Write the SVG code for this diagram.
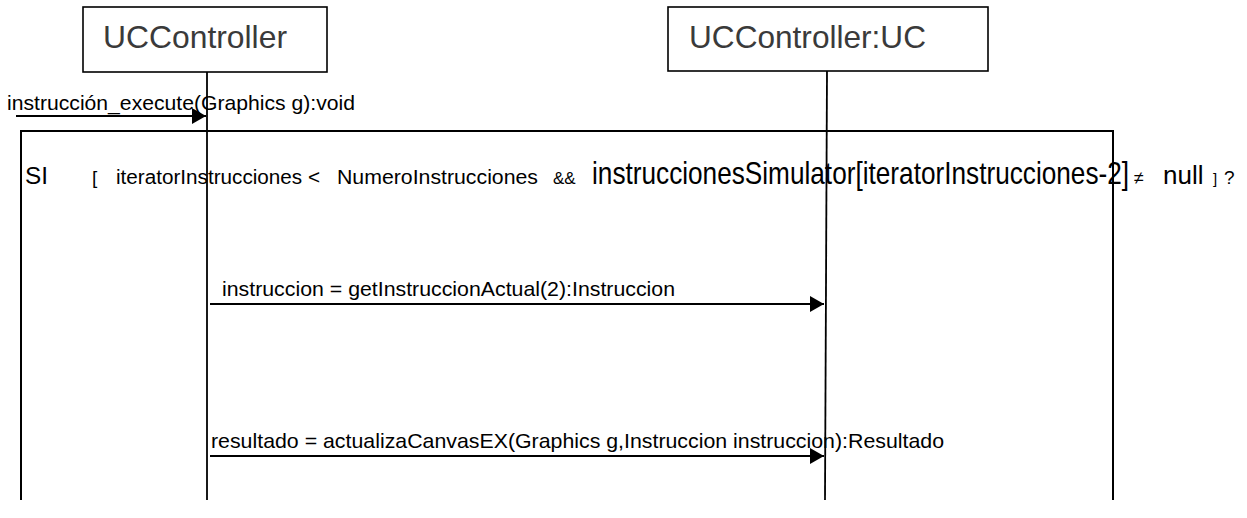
<svg xmlns="http://www.w3.org/2000/svg" width="1247" height="518" viewBox="0 0 1247 518">
  <style>
    .box { fill: #ffffff; stroke: #000000; stroke-width: 1.6; }
    .life { stroke: #000000; stroke-width: 1.8; fill: none; }
    .frame { stroke: #000000; stroke-width: 2; fill: none; }
    .msg { stroke: #000000; stroke-width: 1.8; fill: none; marker-end: url(#arrow); }
    .title { font-family: "Liberation Sans", Arial, sans-serif; font-size: 32px; fill: #3a3a3a; }
    .lbl { font-family: "Liberation Sans", Arial, sans-serif; fill: #000000; }
  </style>
  <defs>
    <marker id="arrow" viewBox="0 0 14 16" refX="14" refY="8" markerWidth="14" markerHeight="16" markerUnits="userSpaceOnUse" orient="auto">
      <path d="M0,0 L14,8 L0,16 Z" fill="#000000"/>
    </marker>
  </defs>

  <!-- lifeline heads -->
  <g id="uccontroller">
    <rect class="box" x="83" y="7" width="244" height="65"/>
    <text class="title" x="103" y="48" textLength="184" lengthAdjust="spacingAndGlyphs">UCController</text>
    <line class="life" x1="207" y1="72" x2="207" y2="500"/>
  </g>
  <g id="uccontroller-uc">
    <rect class="box" x="668" y="7" width="320" height="64"/>
    <text class="title" x="689" y="48" textLength="237" lengthAdjust="spacingAndGlyphs">UCController:UC</text>
    <line class="life" x1="827" y1="71" x2="825" y2="500"/>
  </g>

  <!-- combined fragment with its guard -->
  <g id="fragment-si">
    <path class="frame" d="M21,500 L21,131 L1113,131 L1113,500"/>
    <text class="lbl" x="25" y="184" font-size="24" textLength="23" lengthAdjust="spacingAndGlyphs">SI</text>
    <text class="lbl" x="92" y="184" font-size="19">[</text>
    <text class="lbl" x="116" y="184" font-size="20" textLength="204" lengthAdjust="spacingAndGlyphs">iteratorInstrucciones &lt;</text>
    <text class="lbl" x="337" y="184" font-size="20" textLength="201" lengthAdjust="spacingAndGlyphs">NumeroInstrucciones</text>
    <text class="lbl" x="553" y="184" font-size="17">&amp;&amp;</text>
    <!-- tall, narrow run: stretched vertically rather than squeezed sideways -->
    <text class="lbl" font-size="26.2" transform="translate(592,184) scale(1,1.18)">instruccionesSimulator[iteratorInstrucciones-2]</text>
    <text class="lbl" x="1134" y="184" font-size="18">≠</text>
    <text class="lbl" x="1163" y="184" font-size="26">null</text>
    <text class="lbl" x="1213" y="184" font-size="15">]</text>
    <text class="lbl" x="1224" y="184" font-size="19">?</text>
  </g>

  <!-- messages -->
  <g id="connectors">
    <line class="msg" x1="16" y1="116" x2="206" y2="116"/>
    <text class="lbl" x="7" y="110" font-size="21" textLength="348" lengthAdjust="spacingAndGlyphs">instrucción_execute(Graphics g):void</text>

    <line class="msg" x1="210" y1="304" x2="824" y2="304"/>
    <text class="lbl" x="222" y="296" font-size="21" textLength="453" lengthAdjust="spacingAndGlyphs">instruccion = getInstruccionActual(2):Instruccion</text>

    <line class="msg" x1="210" y1="456" x2="824" y2="456"/>
    <text class="lbl" x="211" y="448" font-size="21" textLength="733" lengthAdjust="spacingAndGlyphs">resultado = actualizaCanvasEX(Graphics g,Instruccion instruccion):Resultado</text>
  </g>
</svg>
